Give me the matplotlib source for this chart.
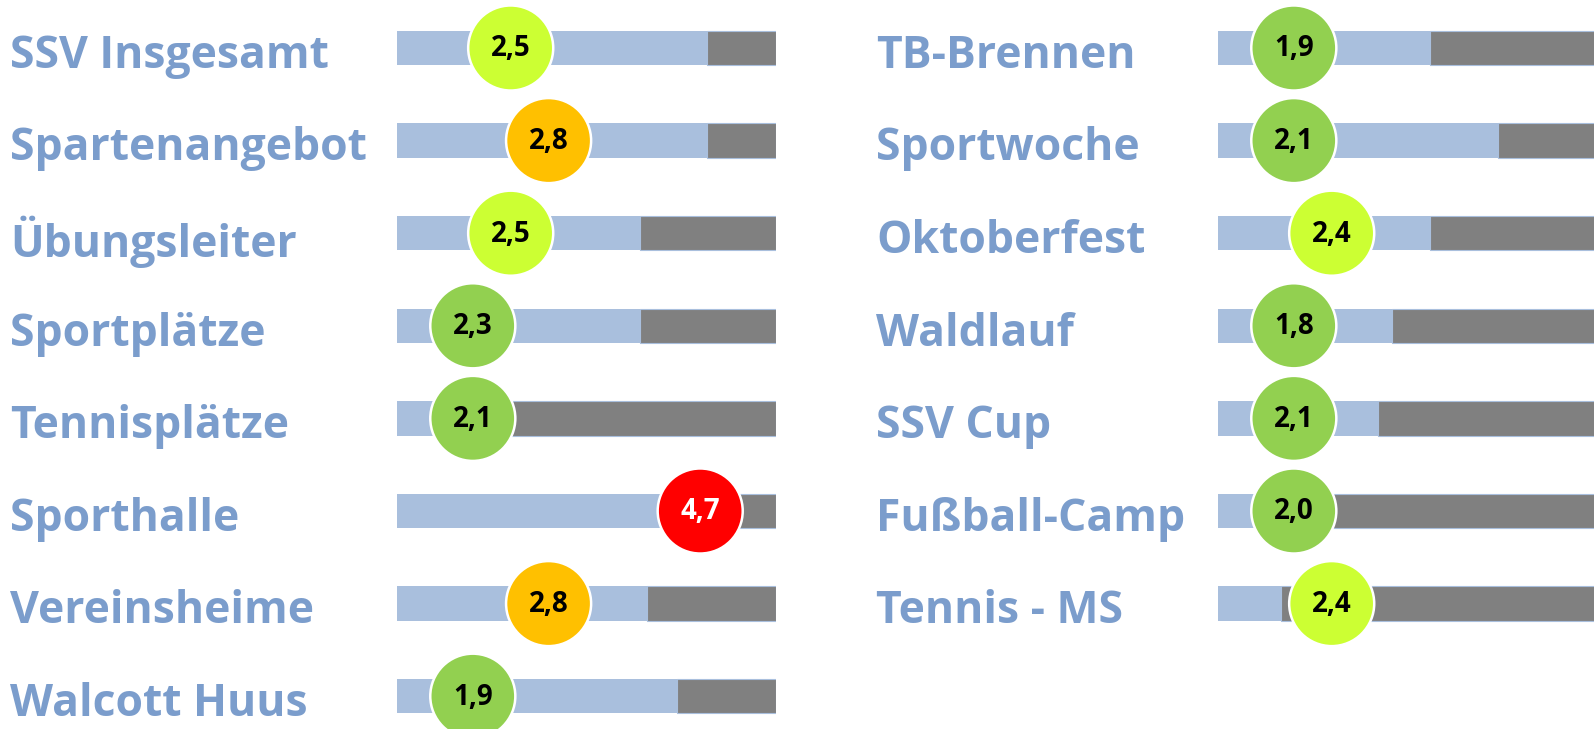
import matplotlib.pyplot as plt
from matplotlib.transforms import blended_transform_factory

# === DATA ===
left_labels = ['SSV Insgesamt', 'Spartenangebot', 'Übungsleiter', 'Sportplätze',
               'Tennisplätze', 'Sporthalle', 'Vereinsheime', 'Walcott Huus']
left_scores = [2.5, 2.8, 2.5, 2.3, 2.1, 4.7, 2.8, 1.9]
left_blue = [0.818, 0.818, 0.641, 0.641, 0.20, 0.90, 0.66, 0.739]   # share of light blue part
left_pos = [0.30, 0.40, 0.30, 0.20, 0.20, 0.80, 0.40, 0.20]         # circle position on bar

right_labels = ['TB-Brennen', 'Sportwoche', 'Oktoberfest', 'Waldlauf',
                'SSV Cup', 'Fußball-Camp', 'Tennis - MS']
right_scores = [1.9, 2.1, 2.4, 1.8, 2.1, 2.0, 2.4]
right_blue = [0.559, 0.739, 0.559, 0.459, 0.422, 0.20, 0.166]
right_pos = [0.20, 0.20, 0.30, 0.20, 0.20, 0.20, 0.30]

# === STYLE ===
BLUE = '#A9BFDD'
GREY = '#808080'
LABEL = '#7B9DCC'
FONT = 'Open Sans'

def score_color(v):
    if v >= 4.0:
        return '#FF0000'
    if v >= 2.6:
        return '#FFC000'
    if v >= 2.4:
        return '#CCFF33'
    return '#92D050'

W, H = 1594, 729
fig = plt.figure(figsize=(W / 100, H / 100), dpi=100)

row0, step = 48, 92.6
ylim = ((H - row0) / step, -row0 / step)


def draw_column(bar_x, label_x, labels, scores, blue, pos):
    ax = fig.add_axes([bar_x / W, 0, 379 / W, 1])
    ax.set_xlim(0, 1)
    ax.set_ylim(*ylim)
    ax.axis('off')
    rows = list(range(len(labels)))
    ax.barh(rows, blue, height=0.373, color=BLUE, linewidth=0)
    ax.barh(rows, [1 - b for b in blue], left=blue, height=0.373,
            color=GREY, edgecolor=BLUE, linewidth=0.8)
    ax.scatter(pos, rows, s=3750, c=[score_color(v) for v in scores],
               edgecolors='white', linewidths=1.8, zorder=3, clip_on=False)
    for r, p, v in zip(rows, pos, scores):
        ax.text(p, r + 0.01, f'{v:.1f}'.replace('.', ','), ha='center', va='center',
                fontsize=20, fontweight='bold', family=FONT,
                color='white' if v >= 4.0 else 'black', zorder=4)
    tr = blended_transform_factory(fig.transFigure, ax.transData)
    for r, lab in zip(rows, labels):
        ax.text(label_x / W, r + 0.09, lab, transform=tr, ha='left', va='center',
                fontsize=32, fontweight='bold', family=FONT, color=LABEL)


draw_column(397, 10, left_labels, left_scores, left_blue, left_pos)
draw_column(1218, 876, right_labels, right_scores, right_blue, right_pos)

fig.savefig('out.png', dpi=100, facecolor='white')
